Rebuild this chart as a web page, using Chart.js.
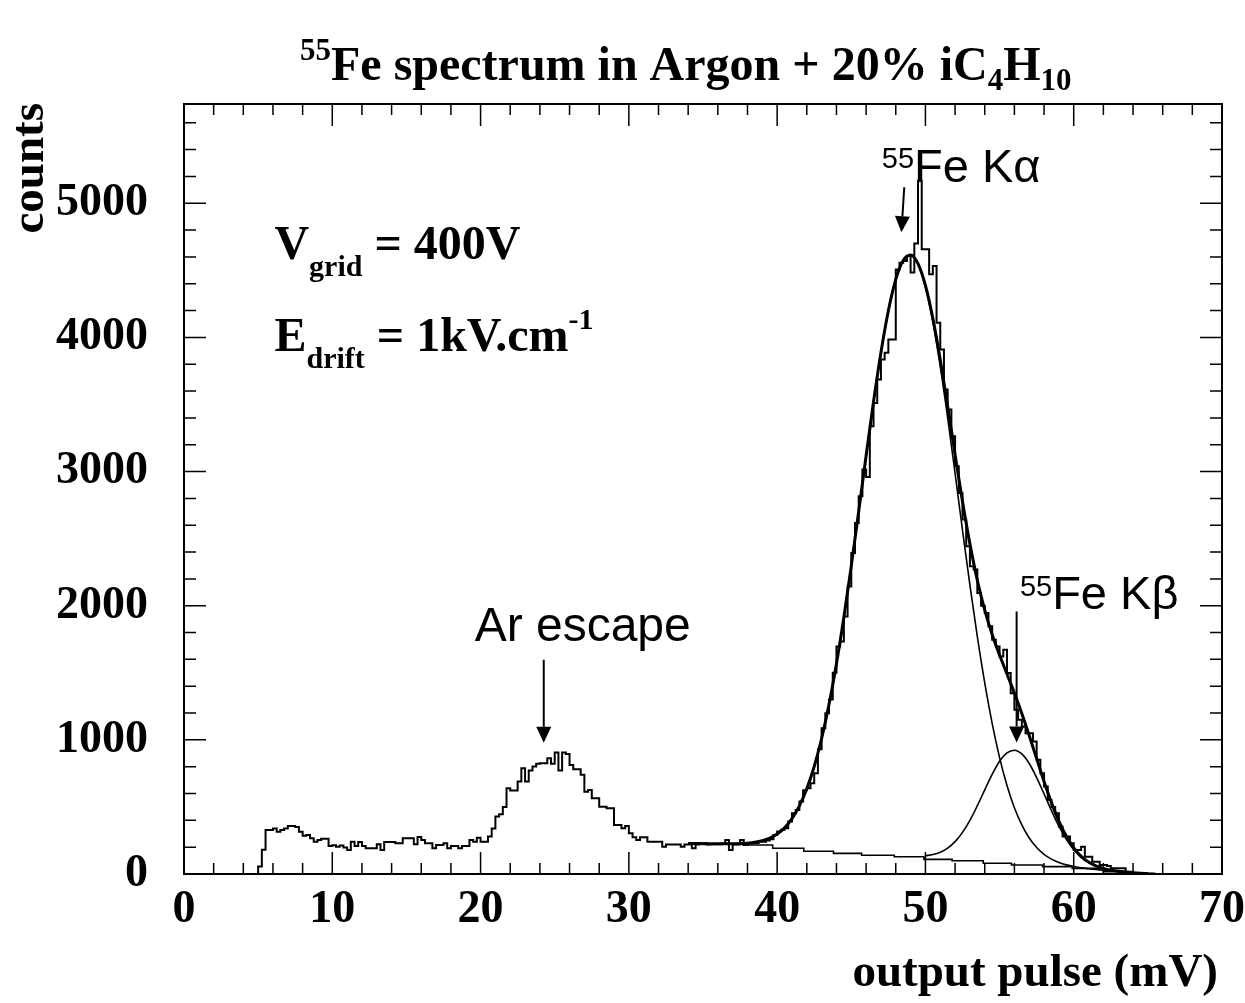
<!DOCTYPE html>
<html>
<head>
<meta charset="utf-8">
<title>55Fe spectrum in Argon + 20% iC4H10</title>
<script src="https://cdn.jsdelivr.net/npm/chart.js@4.4.1/dist/chart.umd.min.js"></script>
<style>
  html, body { margin: 0; padding: 0; background: #ffffff; }
  #c { display: block; }
</style>
</head>
<body>
<canvas id="c" width="1245" height="1003"></canvas>
<script>
// ---- measured spectrum: 0.25 mV bins starting at 5 mV ----
const binStart = 5.0;
const binWidth = 0.25;
const binCounts = [
  55, 180, 328, 328, 340, 315, 328, 340,          // 5.00 - 6.75
  358, 358, 350, 315, 286, 290, 266, 241,         // 7.00 - 8.75
  254, 262, 262, 209, 215, 204, 212, 197,         // 9.00 - 10.75
  179, 241, 209, 238, 209, 192, 192, 192,         // 11.00 - 12.75
  222, 179, 239, 239, 239, 229, 229, 266,         // 13.00 - 14.75
  266, 266, 222, 276, 254, 229, 229, 192,         // 15.00 - 16.75
  217, 217, 229, 192, 209, 209, 192, 209,         // 17.00 - 18.75
  209, 254, 241, 271, 241, 241, 279, 340,         // 19.00 - 20.75
  428, 445, 500, 639, 622, 622, 689, 789,         // 21.00 - 22.75
  689, 771, 801, 821, 826, 826, 863, 821,         // 23.00 - 24.75
  905, 771, 905, 895, 813, 781, 781, 739,         // 25.00 - 26.75
  614, 627, 565, 565, 502, 502, 490, 490,         // 27.00 - 28.75
  366, 366, 341, 358, 303, 274, 254, 274,         // 29.00 - 30.75
  274, 241, 241, 241, 241, 204, 219, 219,         // 31.00 - 32.75
  219, 219, 204, 219, 219, 192, 219, 229,         // 33.00 - 34.75
  229, 219, 222, 222, 222, 225, 254, 179,         // 35.00 - 36.75
  219, 219, 254, 216, 229, 229, 232, 241,         // 37.00 - 38.75
  241, 250, 259, 291, 316, 330, 341, 391,         // 39.00 - 40.75
  453, 478, 540, 625, 639, 677, 751, 930,         // 41.00 - 42.75
  1087, 1199, 1300, 1500, 1696, 1734, 1920, 2144, // 43.00 - 44.75
  2393, 2617, 2816, 3015, 2960, 3338, 3512, 3687, // 45.00 - 46.75
  3836, 3886, 3985, 3985, 4507, 4557, 4570, 4607, // 47.00 - 48.75
  4483, 4700, 5167, 4657, 4657, 4470, 4532, 4109, // 49.00 - 50.75
  3910, 3612, 3463, 3264, 3040, 2841, 2642, 2443, // 51.00 - 52.75
  2294, 2269, 2095, 2000, 1945, 1846, 1746, 1696, // 53.00 - 54.75
  1622, 1672, 1498, 1348, 1224, 1149, 1099, 1050, // 55.00 - 56.75
  1050, 988, 851, 751, 652, 552, 500, 453,        // 57.00 - 58.75
  353, 279, 279, 229, 179, 179, 204, 129,         // 59.00 - 60.75
  129, 92, 92, 67, 67, 60, 42, 42,                // 61.00 - 62.75
  42, 42, 17, 17, 5, 5, 3, 2,                     // 63.00 - 64.75
  1, 0                                            // 65.00 - 65.25
];

// ---- fitted curves, sampled every 0.5 mV ----
const fitX = [
  34, 34.5, 35, 35.5, 36, 36.5, 37, 37.5, 38, 38.5,
  39, 39.5, 40, 40.5, 41, 41.5, 42, 42.5, 43, 43.5,
  44, 44.5, 45, 45.5, 46, 46.5, 47, 47.5, 48, 48.5,
  49, 49.5, 50, 50.5, 51, 51.5, 52, 52.5, 53, 53.5,
  54, 54.5, 55, 55.5, 56, 56.5, 57, 57.5, 58, 58.5,
  59, 59.5, 60, 60.5, 61, 61.5, 62, 62.5, 63, 63.5,
  64, 64.5, 65
];
// K-alpha peak plus background
const fitKAlpha = [
  228, 227, 226, 225, 225, 225, 225, 227, 230, 237,
  249, 268, 298, 344, 413, 508, 635, 801, 1010, 1266,
  1568, 1914, 2297, 2703, 3118, 3520, 3888, 4199, 4433, 4574,
  4612, 4543, 4374, 4115, 3784, 3400, 2986, 2564, 2153, 1769,
  1424, 1123, 868, 660, 494, 366, 268, 198, 147, 111,
  86, 68, 56, 46, 39, 33, 28, 22, 18, 14,
  10, 6, 3
];
// full fit: K-alpha + K-beta + background
const fitTotal = [
  228, 227, 226, 225, 225, 225, 225, 227, 230, 237,
  249, 268, 298, 344, 413, 508, 635, 801, 1010, 1266,
  1568, 1914, 2297, 2703, 3118, 3520, 3888, 4199, 4433, 4574,
  4615, 4550, 4388, 4143, 3834, 3486, 3125, 2777, 2461, 2190,
  1967, 1785, 1632, 1491, 1349, 1197, 1032, 860, 690, 532,
  394, 281, 195, 132, 89, 61, 42, 29, 21, 15,
  10, 6, 3
];
// K-beta peak plus background
const kBetaX = [
  50, 50.5, 51, 51.5, 52, 52.5, 53, 53.5, 54, 54.5,
  55, 55.5, 56, 56.5, 57, 57.5, 58, 58.5, 59, 59.5,
  60, 60.5, 61, 61.5, 62, 62.5, 63
];
const fitKBeta = [
  136, 145, 162, 193, 241, 310, 400, 509, 627, 742,
  840, 903, 923, 895, 824, 719, 597, 472, 356, 258,
  181, 124, 85, 59, 41, 29, 21
];
// background estimate, piecewise constant
const bgEdges  = [34.0, 35.8, 37.7, 39.7, 41.8, 43.8, 45.7, 47.9, 49.9, 51.8, 53.9, 55.8, 57.9, 59.9, 62.0, 63.6, 65.5];
const bgLevels = [226, 222, 216, 192, 170, 154, 140, 129, 109, 99, 80, 67, 55, 42, 17, 5];

// ---- axes ----
const xRange = [0, 70];
const yRange = [0, 5740];
const xTickValues = [0, 10, 20, 30, 40, 50, 60, 70];
const yTickValues = [0, 1000, 2000, 3000, 4000, 5000];
const xMajorStep = 10, xMinorStep = 2;
const yMajorStep = 1000, yMinorStep = 200;

const SERIF = "'Liberation Serif', 'Times New Roman', serif";
const SANS = "'Liberation Sans', Arial, sans-serif";

// ---- build point lists ----
const histPoints = [{ x: binStart - binWidth, y: 0 }];
binCounts.forEach((c, i) => histPoints.push({ x: binStart + i * binWidth, y: c }));
histPoints.push({ x: binStart + binCounts.length * binWidth, y: 0 });

const pairUp = (xs, ys) => xs.map((x, i) => ({ x, y: ys[i] }));
const bgPoints = bgEdges.map((e, i) => ({ x: e, y: bgLevels[Math.min(i, bgLevels.length - 1)] }));

// ---- drawing helpers ----
function richText(ctx, x, y, runs, family, bold) {
  let cx = x;
  ctx.textAlign = 'left';
  ctx.textBaseline = 'alphabetic';
  for (const r of runs) {
    ctx.font = (bold ? 'bold ' : '') + r.size + 'px ' + family;
    ctx.fillText(r.text, cx, y + (r.dy || 0));
    cx += ctx.measureText(r.text).width;
  }
  return cx;
}

function arrow(ctx, x1, y1, x2, y2) {
  const ang = Math.atan2(y2 - y1, x2 - x1);
  const headLen = 16, headHalf = 7.5;
  const bx = x2 - headLen * Math.cos(ang), by = y2 - headLen * Math.sin(ang);
  ctx.lineWidth = 2;
  ctx.beginPath(); ctx.moveTo(x1, y1); ctx.lineTo(bx, by); ctx.stroke();
  ctx.beginPath();
  ctx.moveTo(x2, y2);
  ctx.lineTo(bx + headHalf * Math.sin(ang), by - headHalf * Math.cos(ang));
  ctx.lineTo(bx - headHalf * Math.sin(ang), by + headHalf * Math.cos(ang));
  ctx.closePath(); ctx.fill();
}

// frame, inward ticks, titles and peak labels
const decorations = {
  id: 'decorations',
  afterDraw(chart) {
    const { ctx, chartArea: a, scales: { x, y } } = chart;
    const px = v => x.getPixelForValue(v);
    const py = v => y.getPixelForValue(v);
    ctx.save();
    ctx.strokeStyle = '#000';
    ctx.fillStyle = '#000';

    // ticks on all four sides, pointing into the frame
    ctx.lineWidth = 1.5;
    ctx.beginPath();
    for (let v = xRange[0]; v <= xRange[1] + 1e-9; v += xMinorStep) {
      const p = px(v);
      const len = Math.abs(v % xMajorStep) < 1e-9 ? 22 : 11;
      ctx.moveTo(p, a.bottom); ctx.lineTo(p, a.bottom - len);
      ctx.moveTo(p, a.top); ctx.lineTo(p, a.top + len);
    }
    for (let v = yRange[0]; v <= yRange[1]; v += yMinorStep) {
      const p = py(v);
      const len = v % yMajorStep === 0 ? 22 : 12;
      ctx.moveTo(a.left, p); ctx.lineTo(a.left + len, p);
      ctx.moveTo(a.right, p); ctx.lineTo(a.right - len, p);
    }
    ctx.stroke();

    // frame
    ctx.lineWidth = 2;
    ctx.strokeRect(a.left, a.top, a.right - a.left, a.bottom - a.top);

    // main title
    richText(ctx, 300, 80, [
      { text: '55', size: 31, dy: -20 },
      { text: 'Fe spectrum in Argon + 20% iC', size: 48 },
      { text: '4', size: 31, dy: 10 },
      { text: 'H', size: 48 },
      { text: '10', size: 31, dy: 10 }
    ], SERIF, true);

    // axis titles
    ctx.font = 'bold 47px ' + SERIF;
    ctx.textAlign = 'right';
    ctx.textBaseline = 'alphabetic';
    ctx.fillText('output pulse (mV)', a.right - 4, 986);
    ctx.save();
    ctx.translate(43, a.top - 1);
    ctx.rotate(-Math.PI / 2);
    ctx.textAlign = 'right';
    ctx.fillText('counts', 0, 0);
    ctx.restore();

    // operating conditions
    richText(ctx, px(6.1), py(4582), [
      { text: 'V', size: 48 },
      { text: 'grid', size: 30, dy: 17 },
      { text: ' = 400V', size: 48 }
    ], SERIF, true);
    richText(ctx, px(6.1), py(3896), [
      { text: 'E', size: 48 },
      { text: 'drift', size: 30, dy: 17 },
      { text: ' = 1kV.cm', size: 48 },
      { text: '-1', size: 30, dy: -22 }
    ], SERIF, true);

    // peak labels
    richText(ctx, px(19.6), py(1739), [{ text: 'Ar escape', size: 48 }], SANS, false);
    richText(ctx, px(47.06), py(5157), [
      { text: '55', size: 29, dy: -14 },
      { text: 'Fe K\u03B1', size: 47 }
    ], SANS, false);
    richText(ctx, px(56.37), py(1978), [
      { text: '55', size: 29, dy: -13 },
      { text: 'Fe K\u03B2', size: 47 }
    ], SANS, false);

    // arrows pointing at the peaks
    arrow(ctx, px(24.26), py(1597), px(24.26), py(978));
    arrow(ctx, px(48.57), py(5119), px(48.38), py(4784));
    arrow(ctx, px(56.15), py(1957), px(56.15), py(980));

    ctx.restore();
  }
};

const lineBase = { pointRadius: 0, pointHoverRadius: 0, fill: false, borderColor: '#000' };
const tickFont = { family: SERIF, weight: 'bold', size: 46 };
const plainLabel = v => String(v);

new Chart(document.getElementById('c'), {
  type: 'line',
  data: {
    datasets: [
      Object.assign({ label: 'data', data: histPoints, stepped: true, borderWidth: 2 }, lineBase),
      Object.assign({ label: 'total fit', data: pairUp(fitX, fitTotal), borderWidth: 3, cubicInterpolationMode: 'monotone' }, lineBase),
      Object.assign({ label: 'K alpha', data: pairUp(fitX, fitKAlpha), borderWidth: 1.6, cubicInterpolationMode: 'monotone' }, lineBase),
      Object.assign({ label: 'K beta', data: pairUp(kBetaX, fitKBeta), borderWidth: 1.6, cubicInterpolationMode: 'monotone' }, lineBase),
      Object.assign({ label: 'background', data: bgPoints, stepped: true, borderWidth: 1.6 }, lineBase)
    ]
  },
  options: {
    responsive: false,
    devicePixelRatio: 1,
    animation: false,
    layout: { padding: { left: 0, right: 23, top: 104, bottom: 0 } },
    plugins: { legend: { display: false }, tooltip: { enabled: false }, title: { display: false } },
    scales: {
      x: {
        type: 'linear',
        min: xRange[0], max: xRange[1],
        grid: { display: false, drawTicks: false },
        border: { display: false },
        afterBuildTicks(scale) { scale.ticks = xTickValues.map(v => ({ value: v })); },
        ticks: {
          maxRotation: 0, autoSkip: false, padding: 9,
          color: '#000', font: tickFont, callback: plainLabel
        },
        afterFit(scale) { scale.height = 129; scale.paddingLeft = 0; scale.paddingRight = 0; }
      },
      y: {
        type: 'linear',
        min: yRange[0], max: yRange[1],
        grid: { display: false, drawTicks: false },
        border: { display: false },
        afterBuildTicks(scale) { scale.ticks = yTickValues.map(v => ({ value: v })); },
        ticks: {
          padding: 36, autoSkip: false,
          color: '#000', font: tickFont, callback: plainLabel
        },
        afterFit(scale) { scale.width = 184; scale.paddingTop = 0; scale.paddingBottom = 0; }
      }
    }
  },
  plugins: [decorations]
});
</script>
</body>
</html>
